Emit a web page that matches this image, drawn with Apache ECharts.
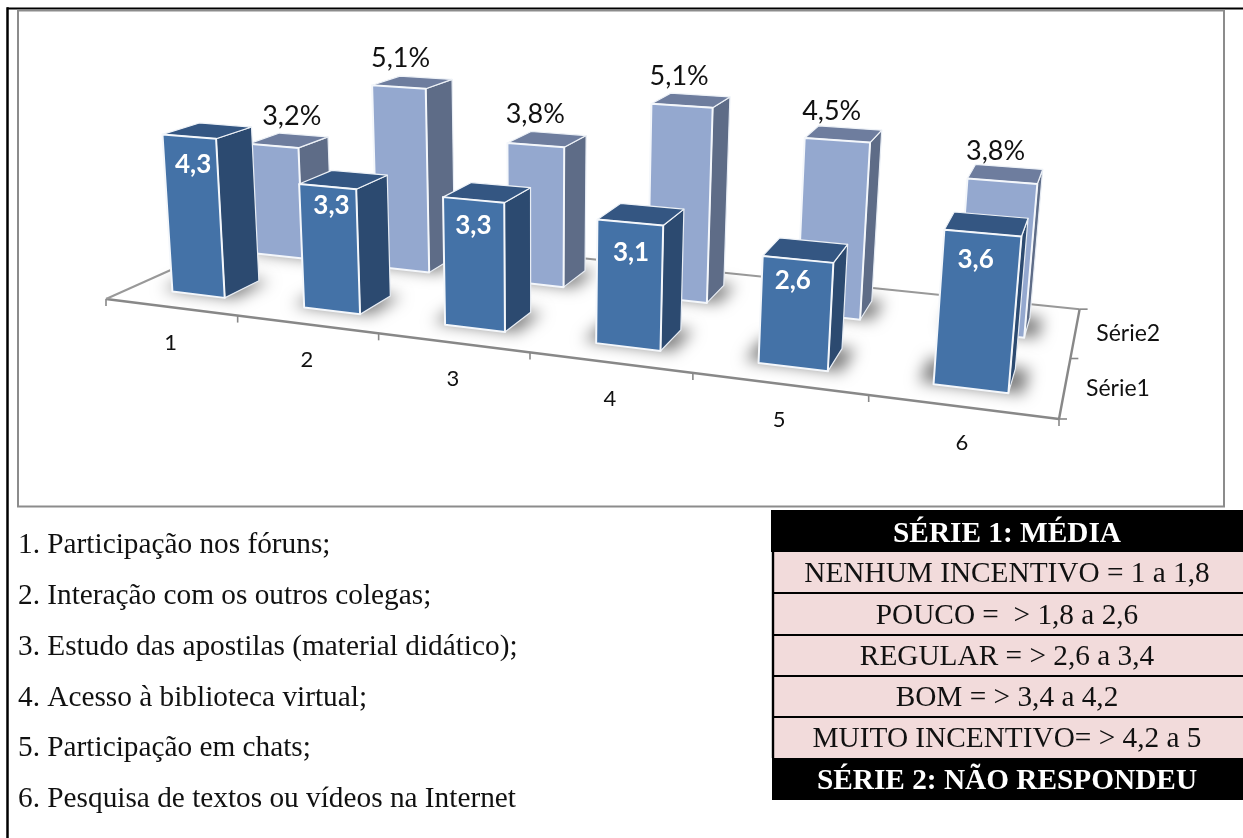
<!DOCTYPE html>
<html>
<head>
<meta charset="utf-8">
<style>html,body{margin:0;padding:0;background:#fff}#c{width:1243px;height:838px}</style>
<script src="https://cdn.jsdelivr.net/npm/echarts@6/dist/echarts.min.js"></script>
</head>
<body>
<div id="c"></div>
<script>
const categories = ['1','2','3','4','5','6'];
const serie1 = [4.3,3.3,3.3,3.1,2.6,3.6];
const serie2 = [3.2,5.1,3.8,5.1,4.5,3.8];
const serieNames = ['Série1','Série2'];
const legendItems = ['1. Participação nos fóruns;','2. Interação com os outros colegas;','3. Estudo das apostilas (material didático);','4. Acesso à biblioteca virtual;','5. Participação em chats;','6. Pesquisa de textos ou vídeos na Internet'];
const tableHead = 'SÉRIE 1: MÉDIA';
const tableRows = ['NENHUM INCENTIVO = 1 a 1,8','POUCO =  > 1,8 a 2,6','REGULAR = > 2,6 a 3,4','BOM = > 3,4 a 4,2','MUITO INCENTIVO= > 4,2 a 5'];
const tableFoot = 'SÉRIE 2: NÃO RESPONDEU';

/* layout only: label nudges in pixels */
const labelNudge1 = [[1,1],[1,-8],[-3,-1],[-2,3],[-8,-6],[-10,0]];
const labelNudge2 = [[3,5],[-12,5],[-12,4],[-12,5],[-12,6],[-10,6]];

/* three-point perspective of the floor/height space */
const G = {left:100, top:100, width:600, height:300};
const YMAX = 6;
const O = [106,299];
const VU = [-3742,-185.5], VV = [1171,-178], VH = [537,6046];
const AU = -0.1985, AV = 0.1807, AH = -0.00628;
const BACK_GAIN = 1.02;
function proj(u,v,h){
  const w = 1 + AU*u + AV*v + AH*h;
  return [(O[0]+AU*u*VU[0]+AV*v*VV[0]+AH*h*VH[0])/w,
          (O[1]+AU*u*VU[1]+AV*v*VV[1]+AH*h*VH[1])/w];
}
function toUH(p){ return [(p[0]-G.left)/G.width, (G.top+G.height-p[1])/G.height*YMAX]; }
const BAR_U = 0.405, BAR_V = 0.208, BAR_SHIFT = 0.012;
function box(api, row){
  const c = toUH(api.coord([api.value(0), api.value(1)]));
  const bw = api.size([1,0])[0]/G.width;
  const uc = c[0]+bw*BAR_SHIFT;
  const u0 = uc-bw*BAR_U/2, u1 = uc+bw*BAR_U/2;
  const vc = row===0 ? 0.25 : 0.75;
  const v0 = vc-BAR_V/2, v1 = vc+BAR_V/2, h = c[1]*(row===0?1:BACK_GAIN);
  return {uc, bw, vc, h, v0, v1,
    fbl:proj(u0,v0,0), fbr:proj(u1,v0,0), bbr:proj(u1,v1,0), bbl:proj(u0,v1,0),
    ftl:proj(u0,v0,h), ftr:proj(u1,v0,h), btr:proj(u1,v1,h), btl:proj(u0,v1,h)};
}
const poly = (pts,fill,stroke,lw)=>({type:'polygon',silent:true,shape:{points:pts},style:{fill,stroke,lineWidth:lw,lineJoin:'round'}});
const fmt = v => String(v).replace('.',',');

function barRenderer(row,cols){
  return function(params,api){
    const b = box(api,row);
    const i = api.value(0);
    const val = fmt(api.value(1));
    const kids = [
      poly([b.fbr,b.bbr,b.btr,b.ftr],cols.side,'#e8edf4',1.2),
      poly([b.ftl,b.ftr,b.btr,b.btl],cols.top,'#eef2f7',1.2),
      poly([b.fbl,b.fbr,b.ftr,b.ftl],cols.front,'#f4f7fb',2)
    ];
    if(row===0){
      const t = proj(b.uc,b.vc-BAR_V/2,b.h), n = labelNudge1[i];
      kids.push({type:'text',silent:true,style:{text:val,x:t[0]+3+n[0],y:t[1]+27+n[1],align:'center',verticalAlign:'middle',
        font:'bold 26px Lato',fill:'#fff'}});
    }else{
      const t = proj(b.uc,b.vc,b.h), n = labelNudge2[i];
      kids.push({type:'text',silent:true,style:{text:val+'%',x:t[0]+n[0],y:t[1]-29+n[1],align:'center',verticalAlign:'middle',
        font:'27px Lato',fill:'#111'}});
    }
    return {type:'group',children:kids};
  };
}
const OFF = 3000;
function shadowRenderer(row){
  return function(params,api){
    const b = box(api,row);
    const hw = b.bw*BAR_U/2*1.4;
    const pts=[proj(b.uc-hw,b.v0,0),proj(b.uc+hw,b.v0,0),proj(b.uc+hw,b.v1,0),proj(b.uc-hw,b.v1,0)]
      .map(p=>[p[0]-OFF,p[1]]);
    return {type:'polygon',silent:true,shape:{points:pts},
      style:{fill:'#000',shadowBlur:15,shadowColor:'rgba(0,0,0,0.5)',shadowOffsetX:OFF,shadowOffsetY:-1}};
  };
}
function floorRenderer(params,api){
  const bw = api.size([1,0])[0]/G.width;
  const seg=(a,b,w,col)=>({type:'line',silent:true,shape:{x1:a[0],y1:a[1],x2:b[0],y2:b[1]},style:{stroke:col,lineWidth:w}});
  const kids=[
    seg(proj(0,0,0),proj(1,0,0),2.4,'#888'),
    seg(proj(0,0,0),proj(0,1,0),2,'#999'),
    seg(proj(0,1,0),proj(1,1,0),2,'#999'),
    seg(proj(1,0,0),proj(1,1,0),2.4,'#888')
  ];
  categories.forEach((c,i)=>{
    const t=proj(i*bw,0,0); kids.push(seg(t,[t[0],t[1]+7],1.6,'#888'));
    const m=proj((i+0.5)*bw,0,0);
    kids.push({type:'text',silent:true,style:{text:c,x:m[0],y:m[1]+36,align:'center',verticalAlign:'middle',font:'22px Lato',fill:'#111'}});
  });
  const t6=proj(1,0,0); kids.push(seg(t6,[t6[0],t6[1]+7],1.6,'#888'));
  [0,0.5,1].forEach(v=>{const t=proj(1,v,0); kids.push(seg(t,[t[0]+8,t[1]],1.6,'#888'));});
  serieNames.forEach((n,i)=>{
    const t=proj(1,i===0?0.25:0.75,0);
    kids.push({type:'text',silent:true,style:{text:n,x:t[0]+53,y:t[1]+1,align:'center',verticalAlign:'middle',font:'23px Lato',fill:'#111'}});
  });
  return {type:'group',children:kids};
}

/* page furniture: frames, list and table */
const SERIF='"Liberation Serif"';
const graphics=[
  {type:'rect',z:0,shape:{x:7,y:8,width:1,height:830},style:{fill:'#000',stroke:'#000',lineWidth:1.5}},
  {type:'line',z:0,shape:{x1:7,y1:8.5,x2:1243,y2:8.5},style:{stroke:'#000',lineWidth:2}},
  {type:'rect',z:0,shape:{x:18,y:10.5,width:1206,height:496},style:{fill:'#fff',stroke:'#8c8c8c',lineWidth:2}}
];
legendItems.forEach((t,i)=>graphics.push({type:'text',style:{text:t,x:18,y:545.5+i*50.8,verticalAlign:'middle',font:'29.3px '+SERIF,fill:'#111'}}));
graphics.push({type:'rect',shape:{x:771,y:510,width:472,height:42},style:{fill:'#000'}});
graphics.push({type:'text',style:{text:tableHead,x:1007,y:534.5,align:'center',verticalAlign:'middle',font:'bold 29.3px '+SERIF,fill:'#fff'}});
const rowTops=[552,593,635,676,717], rowBots=[593,635,676,717,758];
tableRows.forEach((t,i)=>{
  graphics.push({type:'rect',shape:{x:773,y:rowTops[i],width:470,height:rowBots[i]-rowTops[i]},style:{fill:'#F2DBDB'}});
  if(i>0) graphics.push({type:'line',shape:{x1:773,y1:rowTops[i],x2:1243,y2:rowTops[i]},style:{stroke:'#000',lineWidth:2}});
  graphics.push({type:'text',style:{text:t,x:1007,y:(rowTops[i]+rowBots[i])/2+2,align:'center',verticalAlign:'middle',font:'29.3px '+SERIF,fill:'#111'}});
});
graphics.push({type:'line',shape:{x1:773,y1:552,x2:773,y2:758},style:{stroke:'#000',lineWidth:2.4}});
graphics.push({type:'rect',shape:{x:772,y:758,width:471,height:42},style:{fill:'#000'}});
graphics.push({type:'text',style:{text:tableFoot,x:1007,y:781.5,align:'center',verticalAlign:'middle',font:'bold 29.3px '+SERIF,fill:'#fff'}});

const toPairs = arr => arr.map((v,i)=>[i,v]);
const chart = echarts.init(document.getElementById('c'),null,{width:1243,height:838});
chart.setOption({
  animation:false,
  backgroundColor:'#fff',
  grid:{left:G.left,top:G.top,width:G.width,height:G.height},
  xAxis:{type:'category',data:categories,show:false},
  yAxis:{type:'value',min:0,max:YMAX,interval:1,show:false},
  graphic:{elements:graphics},
  series:[
    {type:'custom',name:'floor',z:2,data:[[0,0]],renderItem:floorRenderer,clip:false,silent:true},
    {type:'custom',name:'shadow2',z:3,data:toPairs(serie2),renderItem:shadowRenderer(1),clip:false,silent:true},
    {type:'custom',name:'shadow1',z:3,data:toPairs(serie1),renderItem:shadowRenderer(0),clip:false,silent:true},
    {type:'custom',name:serieNames[1],z:4,data:toPairs(serie2),renderItem:barRenderer(1,{front:'#94A8CF',side:'#5E6C87',top:'#6E7D9E'}),clip:false,silent:true},
    {type:'custom',name:serieNames[0],z:5,data:toPairs(serie1),renderItem:barRenderer(0,{front:'#4472A7',side:'#2C4A70',top:'#345682'}),clip:false,silent:true}
  ]
});
</script>
</body>
</html>
